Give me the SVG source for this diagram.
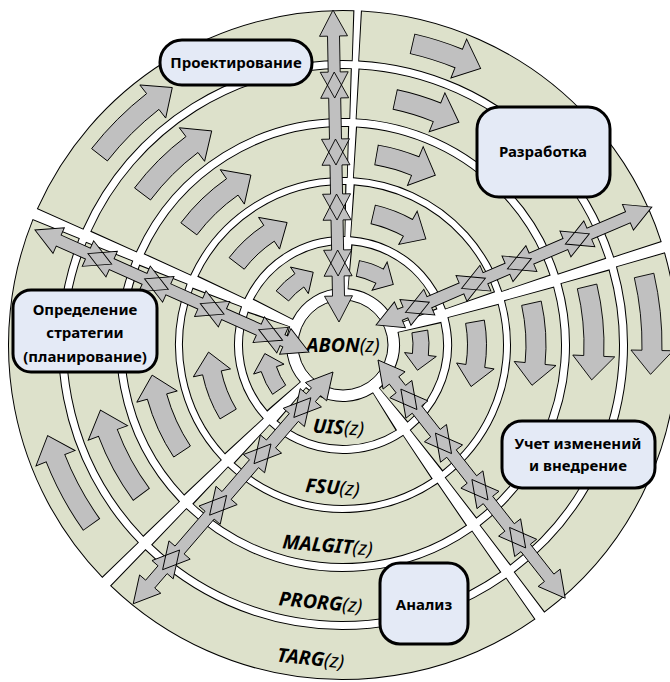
<svg xmlns="http://www.w3.org/2000/svg" width="670" height="682" viewBox="0 0 670 682">
<style>
.rb{fill:none;stroke:#000}
.rg{fill:none;stroke:#dde1cb}
.arr{fill:#c0c0c0;stroke:#000;stroke-width:0.9}
.cfill{fill:#c0c0c0;stroke:none}
.cline{fill:none;stroke:#000;stroke-width:0.9}
.box{fill:#e4eaf6;stroke:#000;stroke-width:3}
.bt{font-family:"Noto Sans","Open Sans",sans-serif;font-weight:bold;font-size:15px;text-anchor:middle;fill:#000}
.rt{font-family:"Noto Sans","Open Sans",sans-serif;font-style:italic;font-size:19.5px;text-anchor:middle;fill:#000}
.b{font-weight:bold}
</style>
<defs>
<path id="a5" d="M319,0 A319,319 0 0 0 309.53,-77.17 L290.12,-72.33 A299,299 0 0 1 299,0 L288,0 L308,24 L330,0 Z"/>
<path id="a4" d="M261,0 A261,261 0 0 0 250.89,-71.94 L231.66,-66.43 A241,241 0 0 1 241,0 L230,0 L250,24 L272,0 Z"/>
<path id="a3" d="M203,0 A203,203 0 0 0 193.07,-62.73 L174.04,-56.55 A183,183 0 0 1 183,0 L172,0 L192,22 L214,0 Z"/>
<path id="a2" d="M143.5,0 A143.5,143.5 0 0 0 135.68,-46.72 L117.72,-40.53 A124.5,124.5 0 0 1 124.5,0 L115,0 L133,21 L153,0 Z"/>
<path id="a1" d="M86,0 A86,86 0 0 0 82.24,-25.14 L66.94,-20.47 A70,70 0 0 1 70,0 L62,0 L77,16 L94,0 Z"/>
<path id="b5" d="M319,0 A319,319 0 0 0 315.07,-49.9 L295.32,-46.77 A299,299 0 0 1 299,0 L288,0 L308,24 L330,0 Z"/>
<path id="b4" d="M261,0 A261,261 0 0 0 257.04,-45.32 L237.34,-41.85 A241,241 0 0 1 241,0 L230,0 L250,24 L272,0 Z"/>
<path id="b3" d="M203,0 A203,203 0 0 0 198.56,-42.21 L179,-38.05 A183,183 0 0 1 183,0 L172,0 L192,22 L214,0 Z"/>
<path id="b2" d="M143.5,0 A143.5,143.5 0 0 0 137.94,-39.55 L119.68,-34.32 A124.5,124.5 0 0 1 124.5,0 L115,0 L133,21 L153,0 Z"/>
<g id="c1" transform="translate(339,322) rotate(-91.1)">
<polygon points="0,0 26,-14 26,-6 46,-6 46,-14 72,0 46,14 46,6 26,6 26,14"/>
<polygon points="46,0 72,-14 72,-6 102,-6 102,-14 128,0 102,14 102,6 72,6 72,14"/>
<polygon points="102,0 128,-14 128,-6 157,-6 157,-14 183,0 157,14 157,6 128,6 128,14"/>
<polygon points="157,0 183,-14 183,-6 224,-6 224,-14 250,0 224,14 224,6 183,6 183,14"/>
<polygon points="224,0 250,-14 250,-6 286,-6 286,-14 312,0 286,14 286,6 250,6 250,14"/>
</g>
<g id="c2" transform="translate(376,325) rotate(-23.15)">
<polygon points="0,0 26,-14 26,-6 32,-6 32,-14 58,0 32,14 32,6 26,6 26,14"/>
<polygon points="32,0 58,-14 58,-6 93,-6 93,-14 119,0 93,14 93,6 58,6 58,14"/>
<polygon points="93,0 119,-14 119,-6 143,-6 143,-14 169,0 143,14 143,6 119,6 119,14"/>
<polygon points="143,0 169,-14 169,-6 206,-6 206,-14 232,0 206,14 206,6 169,6 169,14"/>
<polygon points="206,0 232,-14 232,-6 274,-6 274,-14 300,0 274,14 274,6 232,6 232,14"/>
</g>
<g id="c3" transform="translate(309,352) rotate(204)">
<polygon points="0,0 26,-14 26,-6 29,-6 29,-14 55,0 29,14 29,6 26,6 26,14"/>
<polygon points="29,0 55,-14 55,-6 93,-6 93,-14 119,0 93,14 93,6 55,6 55,14"/>
<polygon points="93,0 119,-14 119,-6 154,-6 154,-14 180,0 154,14 154,6 119,6 119,14"/>
<polygon points="154,0 180,-14 180,-6 216,-6 216,-14 242,0 216,14 216,6 180,6 180,14"/>
<polygon points="216,0 242,-14 242,-6 274,-6 274,-14 300,0 274,14 274,6 242,6 242,14"/>
</g>
<g id="c4" transform="translate(333,372) rotate(130.76)">
<polygon points="0,0 26,-14 26,-6 34,-6 34,-14 60,0 34,14 34,6 26,6 26,14"/>
<polygon points="34,0 60,-14 60,-6 95,-6 95,-14 121,0 95,14 95,6 60,6 60,14"/>
<polygon points="95,0 121,-14 121,-6 163,-6 163,-14 189,0 163,14 163,6 121,6 121,14"/>
<polygon points="163,0 189,-14 189,-6 235,-6 235,-14 261,0 235,14 235,6 189,6 189,14"/>
<polygon points="235,0 261,-14 261,-6 280,-6 280,-14 306,0 280,14 280,6 261,6 261,14"/>
</g>
<g id="c5" transform="translate(378,360) rotate(51.84)">
<polygon points="0,0 26,-14 26,-6 37,-6 37,-14 63,0 37,14 37,6 26,6 26,14"/>
<polygon points="37,0 63,-14 63,-6 93,-6 93,-14 119,0 93,14 93,6 63,6 63,14"/>
<polygon points="93,0 119,-14 119,-6 152,-6 152,-14 178,0 152,14 152,6 119,6 119,14"/>
<polygon points="152,0 178,-14 178,-6 213,-6 213,-14 239,0 213,14 213,6 178,6 178,14"/>
<polygon points="213,0 239,-14 239,-6 277,-6 277,-14 303,0 277,14 277,6 239,6 239,14"/>
</g>
</defs>
<rect width="670" height="682" fill="#fff"/>
<g id="ring5">
<circle cx="343" cy="345" r="309.5" pathLength="360" class="rb" stroke-width="51" stroke-dasharray="68.02 1.11 69.02 1.85 69.15 1.85 79.15 1.85 66.15 1.85" transform="rotate(203.93 343 345)"/>
<circle cx="343" cy="345" r="309.5" pathLength="360" class="rg" stroke-width="49" stroke-dasharray="67.65 1.48 68.65 2.22 68.78 2.22 78.78 2.22 65.78 2.22" transform="rotate(204.11 343 345)"/>
</g>
<g id="ring4">
<circle cx="343" cy="345" r="251.5" pathLength="360" class="rb" stroke-width="51" stroke-dasharray="67.69 1.36 68.68 2.27 68.73 2.27 78.73 2.27 65.73 2.27" transform="rotate(204.14 343 345)"/>
<circle cx="343" cy="345" r="251.5" pathLength="360" class="rg" stroke-width="49" stroke-dasharray="67.23 1.82 68.22 2.73 68.27 2.73 78.27 2.73 65.27 2.73" transform="rotate(204.37 343 345)"/>
</g>
<g id="ring3">
<circle cx="343" cy="345" r="193" pathLength="360" class="rb" stroke-width="52" stroke-dasharray="67.13 1.78 68.12 2.97 68.03 2.97 78.03 2.97 65.03 2.97" transform="rotate(204.48 343 345)"/>
<circle cx="343" cy="345" r="193" pathLength="360" class="rg" stroke-width="50" stroke-dasharray="66.54 2.37 67.53 3.56 67.44 3.56 77.44 3.56 64.44 3.56" transform="rotate(204.78 343 345)"/>
</g>
<g id="ring2">
<circle cx="343" cy="345" r="134.5" pathLength="360" class="rb" stroke-width="53" stroke-dasharray="66.09 2.56 67.09 4.26 66.74 4.26 76.74 4.26 63.74 4.26" transform="rotate(205.13 343 345)"/>
<circle cx="343" cy="345" r="134.5" pathLength="360" class="rg" stroke-width="51" stroke-dasharray="65.24 3.41 66.24 5.11 65.89 5.11 75.89 5.11 62.89 5.11" transform="rotate(205.56 343 345)"/>
</g>
<g id="ring1">
<circle cx="343" cy="345" r="78.5" pathLength="360" class="rb" stroke-width="45" stroke-dasharray="63.66 4.38 64.66 7.3 63.7 7.3 73.7 7.3 60.7 7.3" transform="rotate(206.65 343 345)"/>
<circle cx="343" cy="345" r="78.5" pathLength="360" class="rg" stroke-width="43" stroke-dasharray="62.2 5.84 63.2 8.76 62.24 8.76 72.24 8.76 59.24 8.76" transform="rotate(207.38 343 345)"/>
</g>
<g id="abon">
<circle cx="343" cy="345" r="45" fill="#dde1cb" stroke="#000" stroke-width="1"/>
</g>
<g id="cycle-arrows" class="arr">
<use href="#a5" transform="translate(343,345) rotate(-128)"/>
<use href="#a4" transform="translate(343,345) rotate(-127)"/>
<use href="#a3" transform="translate(343,345) rotate(-125)"/>
<use href="#a2" transform="translate(343,345) rotate(-123.5)"/>
<use href="#a1" transform="translate(343,345) rotate(-124)"/>
<use href="#b5" transform="translate(343,345) rotate(-68)"/>
<use href="#b4" transform="translate(343,345) rotate(-68)"/>
<use href="#b3" transform="translate(343,345) rotate(-68)"/>
<use href="#b2" transform="translate(343,345) rotate(-61)"/>
<use href="#a1" transform="translate(343,345) rotate(-62)"/>
<use href="#a5" transform="translate(343,345) rotate(1)"/>
<use href="#a4" transform="translate(343,345) rotate(2.5)"/>
<use href="#a3" transform="translate(343,345) rotate(5.5)"/>
<use href="#a2" transform="translate(343,345) rotate(9)"/>
<use href="#a1" transform="translate(343,345) rotate(7)"/>
<use href="#a5" transform="translate(343,345) rotate(158.5)"/>
<use href="#a4" transform="translate(343,345) rotate(159.5)"/>
<use href="#a3" transform="translate(343,345) rotate(164.5)"/>
<use href="#a2" transform="translate(343,345) rotate(168)"/>
<use href="#a1" transform="translate(343,345) rotate(162)"/>
</g>
<g id="ring-labels">
<text class="rt" x="343" y="352"><tspan class="b">ABON</tspan>(z)</text>
<text class="rt" transform="translate(338,434) rotate(3.5)"><tspan class="b">UIS</tspan>(z)</text>
<text class="rt" transform="translate(332,494) rotate(4.4)"><tspan class="b">FSU</tspan>(z)</text>
<text class="rt" transform="translate(327,552) rotate(4.6)"><tspan class="b">MALGIT</tspan>(z)</text>
<text class="rt" transform="translate(320,609) rotate(5.1)"><tspan class="b">PRORG</tspan>(z)</text>
<text class="rt" transform="translate(310,665) rotate(6)"><tspan class="b">TARG</tspan>(z)</text>
</g>
<g id="connectors">
<use href="#c1" class="cfill"/><use href="#c1" class="cline"/>
<use href="#c2" class="cfill"/><use href="#c2" class="cline"/>
<use href="#c3" class="cfill"/><use href="#c3" class="cline"/>
<use href="#c4" class="cfill"/><use href="#c4" class="cline"/>
<use href="#c5" class="cfill"/><use href="#c5" class="cline"/>
</g>
<g id="node-design">
<rect class="box" x="160" y="40" width="152" height="45" rx="22"/>
<text class="bt" x="236" y="68">Проектирование</text>
</g>
<g id="node-development">
<rect class="box" x="477" y="107" width="133" height="90" rx="22"/>
<text class="bt" x="543" y="157">Разработка</text>
</g>
<g id="node-strategy">
<rect class="box" x="13" y="290" width="144" height="82" rx="18"/>
<text class="bt" x="85" y="315">Определение</text>
<text class="bt" x="85" y="338">стратегии</text>
<text class="bt" x="85" y="362">(планирование)</text>
</g>
<g id="node-changes">
<rect class="box" x="502" y="421" width="153" height="67" rx="20"/>
<text class="bt" x="578" y="449">Учет изменений</text>
<text class="bt" x="578" y="471">и внедрение</text>
</g>
<g id="node-analysis">
<rect class="box" x="380" y="563" width="88" height="81" rx="20"/>
<text class="bt" x="424" y="610">Анализ</text>
</g>
</svg>
